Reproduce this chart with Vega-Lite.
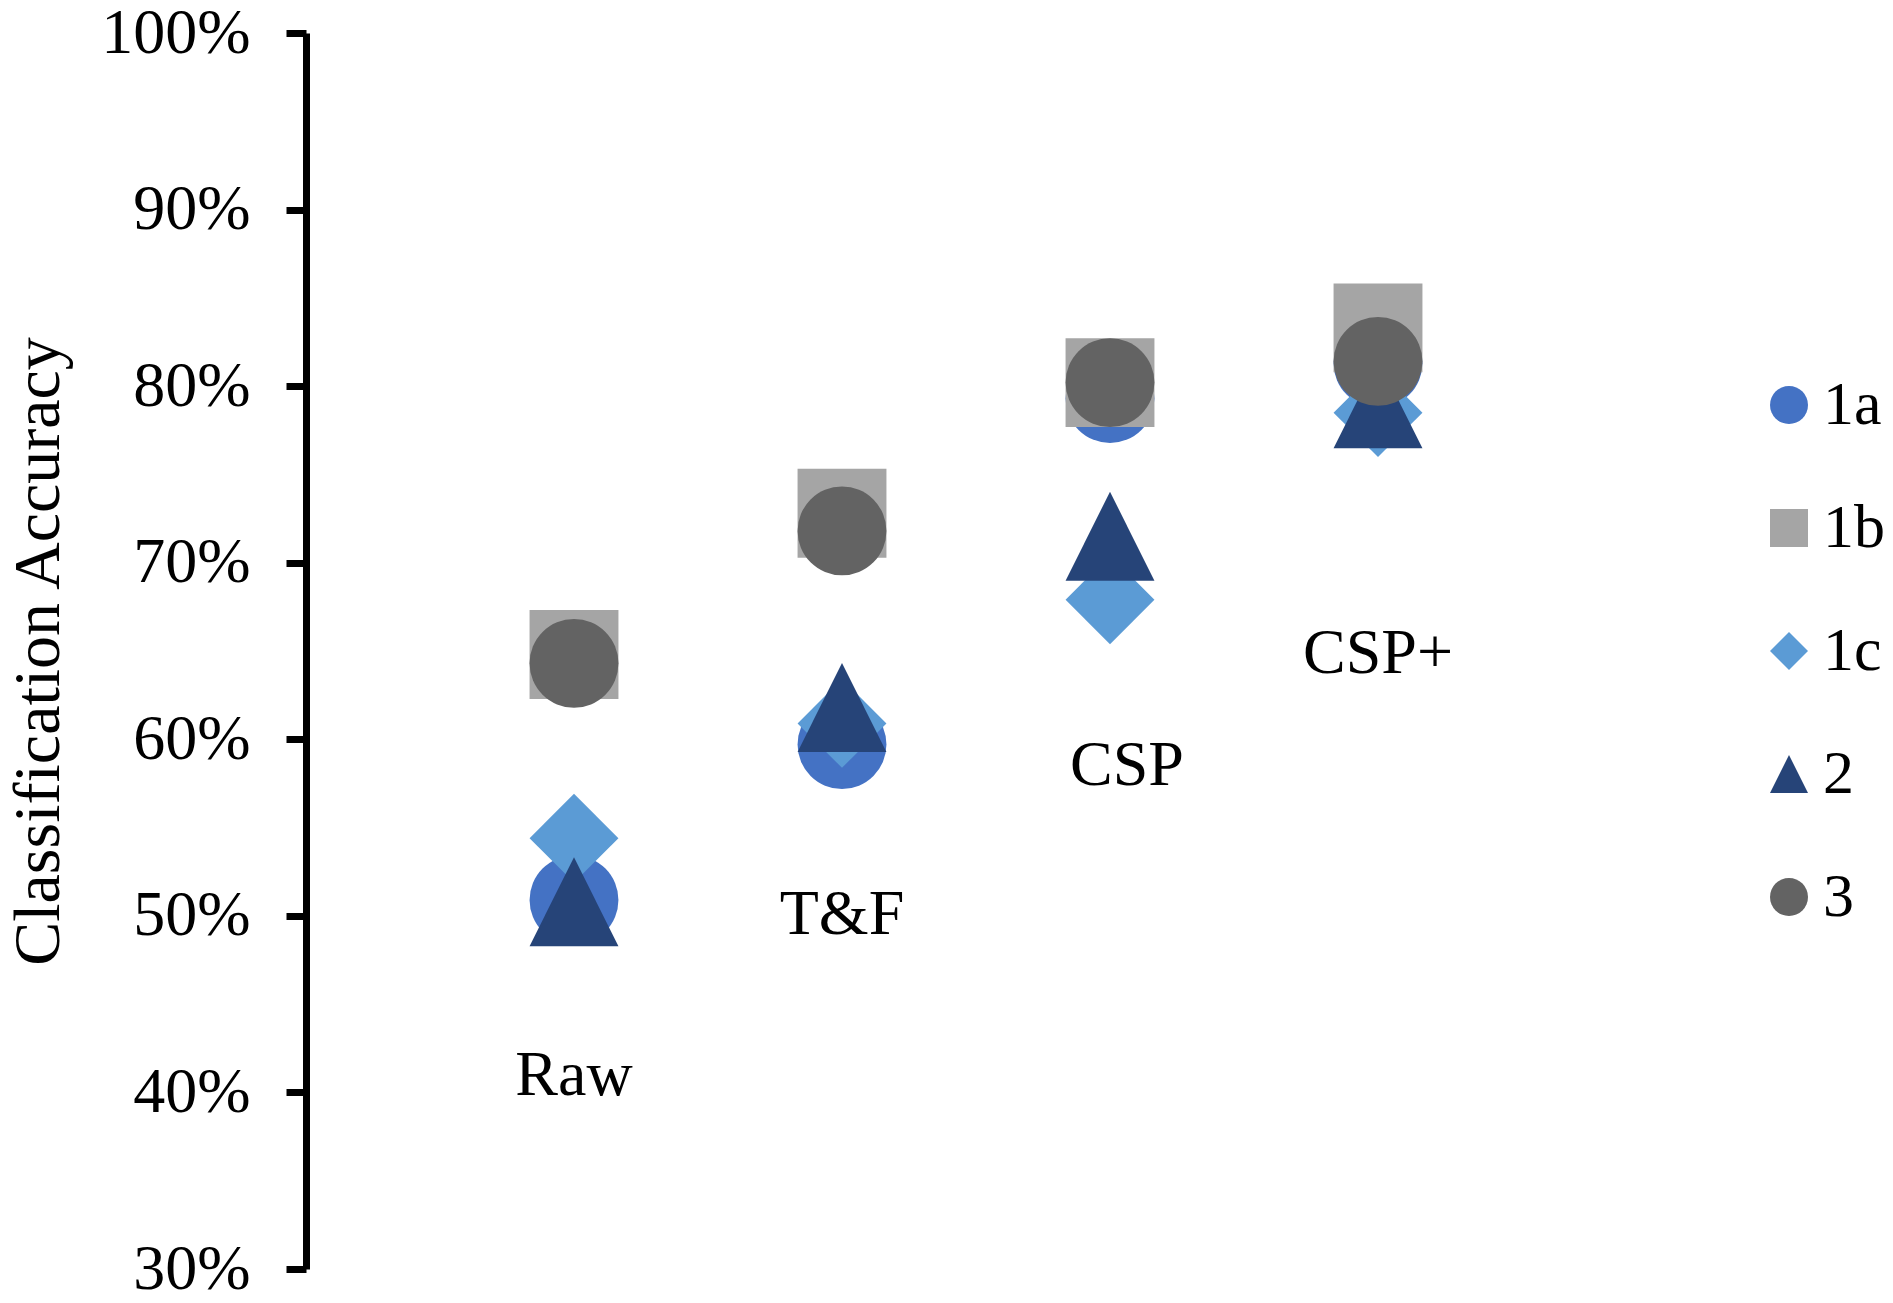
{
  "$schema": "https://vega.github.io/schema/vega-lite/v6.json",
  "autosize": {"type": "none"},
  "padding": {"left": 306, "top": 33, "right": 247, "bottom": 34},
  "width": 1340,
  "height": 1236,
  "background": "white",
  "config": {
    "view": {"stroke": null},
    "font": "Liberation Serif"
  },
  "datasets": {
    "acc": [
      {"method": "Raw", "series": "1a", "accuracy": 0.509},
      {"method": "Raw", "series": "1b", "accuracy": 0.648},
      {"method": "Raw", "series": "1c", "accuracy": 0.544},
      {"method": "Raw", "series": "2", "accuracy": 0.508},
      {"method": "Raw", "series": "3", "accuracy": 0.643},
      {"method": "T&F", "series": "1a", "accuracy": 0.597},
      {"method": "T&F", "series": "1b", "accuracy": 0.728},
      {"method": "T&F", "series": "1c", "accuracy": 0.609},
      {"method": "T&F", "series": "2", "accuracy": 0.618},
      {"method": "T&F", "series": "3", "accuracy": 0.718},
      {"method": "CSP", "series": "1a", "accuracy": 0.793},
      {"method": "CSP", "series": "1b", "accuracy": 0.802},
      {"method": "CSP", "series": "1c", "accuracy": 0.679},
      {"method": "CSP", "series": "2", "accuracy": 0.715},
      {"method": "CSP", "series": "3", "accuracy": 0.802},
      {"method": "CSP+", "series": "1a", "accuracy": 0.813},
      {"method": "CSP+", "series": "1b", "accuracy": 0.833},
      {"method": "CSP+", "series": "1c", "accuracy": 0.785},
      {"method": "CSP+", "series": "2", "accuracy": 0.790},
      {"method": "CSP+", "series": "3", "accuracy": 0.814}
    ],
    "labels": [
      {"method": "Raw", "labelY": 0.3985},
      {"method": "T&F", "labelY": 0.490},
      {"method": "CSP", "labelY": 0.574},
      {"method": "CSP+", "labelY": 0.6375}
    ]
  },
  "encoding": {
    "x": {
      "field": "method",
      "type": "ordinal",
      "sort": ["Raw", "T&F", "CSP", "CSP+"],
      "scale": {"type": "point", "padding": 1, "domain": ["Raw", "T&F", "CSP", "CSP+"]},
      "axis": null
    }
  },
  "layer": [
    {
      "data": {"name": "acc"},
      "mark": {"type": "point", "filled": true, "opacity": 1, "size": 7900, "strokeWidth": 0},
      "encoding": {
        "y": {
          "field": "accuracy",
          "type": "quantitative",
          "scale": {"domain": [0.3, 1.0], "zero": false, "nice": false},
          "axis": {
            "title": "Classification Accuracy",
            "titleFont": "Liberation Serif",
            "titleFontSize": 66,
            "titleFontWeight": "normal",
            "titleColor": "black",
            "titlePadding": 34,
            "values": [0.3, 0.4, 0.5, 0.6, 0.7, 0.8, 0.9, 1.0],
            "format": ".0%",
            "labelFont": "Liberation Serif",
            "labelFontSize": 64,
            "labelColor": "black",
            "labelPadding": 36,
            "tickSize": 20,
            "tickWidth": 7,
            "tickColor": "black",
            "domainWidth": 7,
            "domainColor": "black",
            "grid": false
          }
        },
        "color": {
          "field": "series",
          "type": "nominal",
          "scale": {
            "domain": ["1a", "1b", "1c", "2", "3"],
            "range": ["#4472C4", "#A5A5A5", "#5B9BD5", "#264478", "#636363"]
          },
          "legend": {
            "title": null,
            "orient": "none",
            "legendX": 1452,
            "legendY": 341,
            "padding": 0,
            "labelFont": "Liberation Serif",
            "labelFontSize": 62,
            "labelColor": "black",
            "labelOffset": 3,
            "symbolSize": 1444,
            "symbolStrokeWidth": 0,
            "rowPadding": 61
          }
        },
        "shape": {
          "field": "series",
          "type": "nominal",
          "scale": {
            "domain": ["1a", "1b", "1c", "2", "3"],
            "range": ["circle", "square", "diamond", "M0,-1L1,1L-1,1Z", "circle"]
          },
          "legend": null
        }
      }
    },
    {
      "data": {"name": "labels"},
      "transform": [{"filter": "datum.method !== 'CSP'"}],
      "mark": {"type": "text", "font": "Liberation Serif", "fontSize": 64, "color": "black", "align": "center", "baseline": "alphabetic"},
      "encoding": {
        "y": {"field": "labelY", "type": "quantitative"},
        "text": {"field": "method"}
      }
    },
    {
      "data": {"name": "labels"},
      "transform": [{"filter": "datum.method === 'CSP'"}],
      "mark": {"type": "text", "font": "Liberation Serif", "fontSize": 64, "color": "black", "align": "center", "baseline": "alphabetic", "dx": 17},
      "encoding": {
        "y": {"field": "labelY", "type": "quantitative"},
        "text": {"field": "method"}
      }
    }
  ]
}
